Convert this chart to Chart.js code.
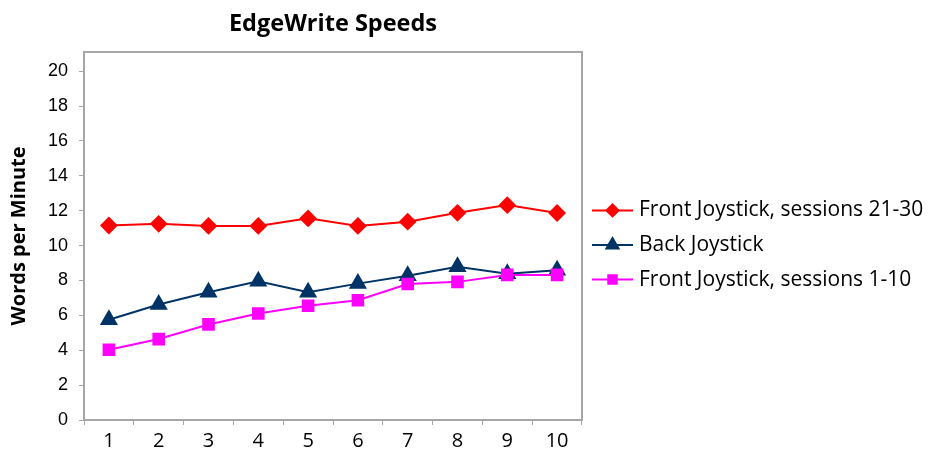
<!DOCTYPE html>
<html>
<head>
<meta charset="utf-8">
<title>EdgeWrite Speeds</title>
<script src="https://cdn.jsdelivr.net/npm/chart.js@4/dist/chart.umd.min.js"></script>
<style>
  html, body { margin: 0; padding: 0; background: #ffffff; }
  #wrap { width: 928px; height: 452px; }
</style>
</head>
<body>
<div id="wrap"><canvas id="c" width="928" height="452"></canvas></div>
<script>
// Session numbers along the x axis
const sessions = ['1', '2', '3', '4', '5', '6', '7', '8', '9', '10'];

// Words per minute for each condition
const frontLate = [11.15, 11.25, 11.13, 11.13, 11.56, 11.13, 11.37, 11.88, 12.32, 11.87];
const backStick = [5.75, 6.62, 7.33, 7.95, 7.33, 7.82, 8.27, 8.78, 8.38, 8.58];
const frontEarly = [4.03, 4.64, 5.48, 6.11, 6.55, 6.87, 7.80, 7.92, 8.32, 8.32];

// Y axis tick values
const yTicks = [0, 2, 4, 6, 8, 10, 12, 14, 16, 18, 20];

const chartTitle = 'EdgeWrite Speeds';
const yTitle = 'Words per Minute';
const seriesNames = ['Front Joystick, sessions 21-30', 'Back Joystick', 'Front Joystick, sessions 1-10'];

const humanist = '"Open Sans", "Noto Sans", sans-serif';
const frameColor = '#a6a6a6';

// Title centred over the plot, frame round the plot, and a line+marker legend on the right
const decorations = {
  id: 'decorations',
  beforeDatasetsDraw(chart) {
    const { ctx, chartArea: a } = chart;
    ctx.save();
    ctx.strokeStyle = frameColor;
    ctx.lineWidth = 2;
    ctx.strokeRect(a.left, a.top, a.right - a.left, a.bottom - a.top);
    ctx.restore();
  },
  afterDraw(chart) {
    const { ctx, chartArea: a } = chart;
    ctx.save();
    ctx.fillStyle = '#000000';
    ctx.font = 'bold 23.5px ' + humanist;
    ctx.textAlign = 'center';
    ctx.textBaseline = 'alphabetic';
    ctx.fillText(chartTitle, (a.left + a.right) / 2, 31);

    const rowGap = 34.6;
    const midY = (a.top + a.bottom) / 2 + 9;
    const x0 = a.right + 10;
    const lineLen = 41;
    chart.data.datasets.forEach((ds, i) => {
      const y = midY + (i - 1) * rowGap;
      ctx.strokeStyle = ds.borderColor;
      ctx.lineWidth = 2;
      ctx.beginPath();
      ctx.moveTo(x0, y);
      ctx.lineTo(x0 + lineLen, y);
      ctx.stroke();
      ctx.fillStyle = ds.pointBackgroundColor;
      ctx.strokeStyle = ds.pointBorderColor;
      if (Chart.helpers && Chart.helpers.drawPoint) {
        Chart.helpers.drawPoint(ctx, {
          pointStyle: ds.pointStyle,
          radius: ds.legendRadius,
          rotation: 0,
          borderWidth: 1
        }, x0 + lineLen / 2, y);
      }
      ctx.fillStyle = '#000000';
      ctx.font = '21px ' + humanist;
      ctx.textAlign = 'left';
      ctx.textBaseline = 'middle';
      ctx.fillText(ds.label, x0 + lineLen + 6, y);
    });
    ctx.restore();
  }
};

new Chart(document.getElementById('c'), {
  type: 'line',
  data: {
    labels: sessions,
    datasets: [
      {
        label: seriesNames[0],
        data: frontLate,
        borderColor: '#ff0000',
        backgroundColor: '#ff0000',
        pointBackgroundColor: '#ff0000',
        pointBorderColor: '#ff0000',
        pointStyle: 'rectRot',
        pointRadius: 7.5,
        legendRadius: 6,
        borderWidth: 2,
        order: 3
      },
      {
        label: seriesNames[1],
        data: backStick,
        borderColor: '#003366',
        backgroundColor: '#003366',
        pointBackgroundColor: '#003366',
        pointBorderColor: '#003366',
        pointStyle: 'triangle',
        pointRadius: 8.5,
        legendRadius: 7,
        borderWidth: 2,
        order: 2
      },
      {
        label: seriesNames[2],
        data: frontEarly,
        borderColor: '#ff00ff',
        backgroundColor: '#ff00ff',
        pointBackgroundColor: '#ff00ff',
        pointBorderColor: '#ff00ff',
        pointStyle: 'rect',
        pointRadius: 7.5,
        legendRadius: 6,
        borderWidth: 2,
        order: 1
      }
    ]
  },
  options: {
    responsive: false,
    animation: false,
    devicePixelRatio: 1,
    layout: { padding: { top: 52, right: 346, left: 0, bottom: 0 } },
    elements: {
      line: { tension: 0 },
      point: { borderWidth: 1, hoverRadius: 8 }
    },
    plugins: {
      legend: { display: false },
      title: { display: false },
      tooltip: { enabled: false }
    },
    scales: {
      x: {
        type: 'category',
        offset: true,
        border: { display: false },
        grid: {
          offset: true,
          drawOnChartArea: false,
          drawTicks: true,
          tickLength: 5,
          color: frameColor,
          lineWidth: 1
        },
        ticks: {
          color: '#000000',
          font: { family: humanist, size: 20 },
          padding: 4,
          maxRotation: 0
        },
        afterFit(scale) { scale.height = 32; }
      },
      y: {
        min: 0,
        max: 21.1,
        border: { display: false },
        grid: {
          drawOnChartArea: false,
          drawTicks: true,
          tickLength: 5,
          color: frameColor,
          lineWidth: 1
        },
        afterBuildTicks(scale) {
          scale.ticks = yTicks.map(v => ({ value: v }));
        },
        ticks: {
          color: '#000000',
          font: { family: '"Liberation Sans", Arial, sans-serif', size: 18 },
          padding: 11
        },
        title: {
          display: true,
          text: yTitle,
          color: '#000000',
          font: { family: humanist, size: 20, weight: 'bold' },
          padding: { top: 7, bottom: 0 }
        },
        afterFit(scale) { scale.width = 84; }
      }
    }
  },
  plugins: [decorations]
});
</script>
</body>
</html>
